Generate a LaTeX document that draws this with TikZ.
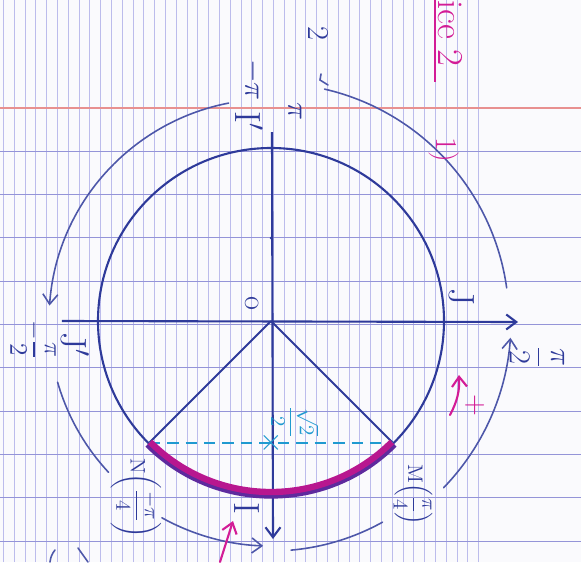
\documentclass[tikz,border=0pt]{standalone}
\usepackage{amsmath,amssymb}
\usepackage{tikz}
\usetikzlibrary{arrows.meta,positioning}
\usepackage{xcolor}
\definecolor{ink}{HTML}{2E3A9A}
\definecolor{paper}{HTML}{FAFAFD}
\definecolor{paperBlue}{HTML}{BCBCEC}
\definecolor{paperRule}{HTML}{9494D8}
\definecolor{marginRed}{HTML}{E89090}
\definecolor{pinkInk}{HTML}{D31C96}
\definecolor{cyanInk}{HTML}{1F9AD0}
\definecolor{arcMagenta}{HTML}{B8178F}
\definecolor{arcPurple}{HTML}{5E2A9E}

\begin{document}
\begin{tikzpicture}[x=0.02cm, y=0.02cm, every node/.style={font=\huge, align=center},
    lbl/.style={text=ink, rotate=-90, inner sep=1pt},
    pinklbl/.style={text=pinkInk, rotate=-90, inner sep=1pt},
    inkline/.style={ink, line width=1.2pt},
    outerarc/.style={ink!85, line width=0.9pt, line cap=round},
    tip/.style={-{Straight Barb[length=2mm,width=3mm]}},
    paperline/.style={paperBlue, line width=0.4pt},
    pinkmark/.style={pinkInk, line width=1.2pt, line cap=round}]
    % the ruled sheet
    \fill[paper] (-271,-241) rectangle (310,321);
    \useasboundingbox (-271,-241) rectangle (310,321);
    \foreach \i in {0,...,44}
      \draw[paperline] ({-267.6+10.8*\i},-241) -- ({-267.6+10.8*\i},321);
    \foreach \k in {1,...,10}
      \draw[paperRule, line width=0.5pt] (-271,{213-43.3*\k}) -- (310,{213-43.3*\k});
    \draw[marginRed, line width=0.6pt] (-271,213) -- (310,213);

    % circle and axes
    \coordinate (O) at (0,0);
    \coordinate (xl) at (-209,0);
    \coordinate (xr) at (247,-1);
    \coordinate (yt) at (1,189);
    \coordinate (yb) at (2,-218);
    \draw[inkline] (O) circle (173);
    \draw[inkline, tip] (xl) -- (xr);
    \draw[inkline, tip] (yt) -- (yb);
    \fill[ink] (0,83) circle (1.3);

    % the two points and the arc between them
    \coordinate (M) at (-45:173);
    \coordinate (N) at (-135:173);
    \draw[inkline] (O) -- (M);
    \draw[inkline] (O) -- (N);
    \draw[cyanInk, line width=1pt, dash pattern=on 6.5pt off 4pt] (N) -- (M);
    \node[text=cyanInk, inner sep=0pt, font=\LARGE] (cross) at (0,-122) {$\times$};
    \draw[arcPurple, line width=3pt] (-135:175) arc[start angle=-135, end angle=-45, radius=175];
    \draw[arcMagenta, line width=3.6pt] (-135:171) arc[start angle=-135, end angle=-45, radius=171];

    % outer arcs
    \draw[outerarc, tip] (101:222) arc[start angle=101, end angle=176, radius=222];
    \draw[outerarc] (50,247) -- (49,241) -- (57,236);
    \draw[outerarc] (77:238) arc[start angle=77, end angle=8, radius=238];
    \draw[outerarc, tip] (-44:240) arc[start angle=-44, end angle=-4, radius=240];
    \draw[outerarc] (-61:230) arc[start angle=-61, end angle=-85, radius=230];
    \draw[outerarc, tip] (-119:225) arc[start angle=-119, end angle=-92, radius=225];
    \draw[outerarc] (-164:222) arc[start angle=-164, end angle=-137, radius=222];
    \draw[outerarc] (-221,-241) to[bend left=15] (-216,-229);
    \draw[outerarc] (-193,-227) -- (-183,-241);

    % labels
    \node[lbl, font=\LARGE] (lO) at (-19,18) {o};
    \node[lbl] (lJ) at (191,24) {J};
    \node[lbl, font=\LARGE] (lpi2) at (266,-36) {$\dfrac{\pi}{2}$};
    \node[lbl] (lJp) at (-196,-24) {J$'$};
    \node[lbl, font=\Large] (lmpi2) at (-238,-19) {$-\dfrac{\pi}{2}$};
    \node[lbl] (lI) at (-24,-187) {I};
    \node[lbl] (lIp) at (-22,200) {I$'$};
    \node[lbl, font=\LARGE] (lmpi) at (-18,241) {$-\pi$};
    \node[lbl, font=\LARGE] (lpi) at (24,210) {$\pi$};
    \node[lbl, font=\LARGE] (ltwo) at (48,288) {2};
    \node[lbl, font=\large] (lM) at (142,-174) {M$\left(\dfrac{\pi}{4}\right)$};
    \node[lbl, font=\large] (lN) at (-135,-177) {N$\left(\dfrac{-\pi}{4}\right)$};
    \node[text=cyanInk, rotate=-90, inner sep=1pt, font=\large] (lroot) at (24,-101) {$\dfrac{\sqrt{2}}{2}$};

    % pink marks
    \draw[pinkInk, line width=1.1pt] (164,321) -- (164,239);
    \node[pinklbl, anchor=west] (ltitle) at (179,323) {ice 2};
    \node[pinklbl, font=\LARGE] (lq) at (173,171) {1)};
    \node[pinklbl, font=\LARGE] (lplus) at (204,-84) {+};
    \coordinate (sa) at (179,-94);
    \coordinate (sb) at (188,-54);
    \draw[pinkmark, tip] (sa) to[bend right=15] (sb);
    \coordinate (pa) at (-51,-241);
    \coordinate (pb) at (-38,-200);
    \draw[pinkmark, tip] (pa) -- (pb);
  \end{tikzpicture}
\end{document}
